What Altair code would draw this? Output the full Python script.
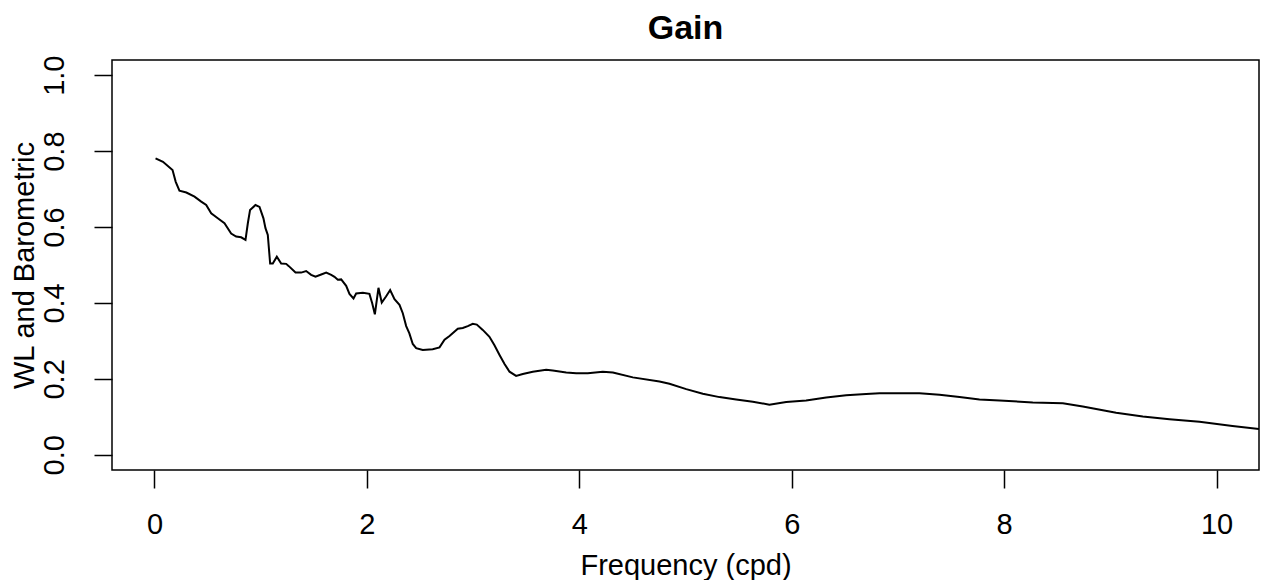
import altair as alt
import pandas as pd

freq = [0.01, 0.08, 0.17, 0.20, 0.235, 0.30, 0.377, 0.44, 0.487, 0.534, 0.596, 0.659,
        0.722, 0.769, 0.816, 0.857, 0.879, 0.90, 0.951, 0.989, 1.026, 1.045, 1.067,
        1.089, 1.114, 1.152, 1.193, 1.24, 1.265, 1.328, 1.381, 1.428, 1.475, 1.516,
        1.57, 1.617, 1.664, 1.695, 1.726, 1.758, 1.805, 1.836, 1.874, 1.899, 1.962,
        2.024, 2.05, 2.075, 2.109, 2.14, 2.18, 2.219, 2.26, 2.307, 2.338, 2.37, 2.40,
        2.432, 2.464, 2.526, 2.62, 2.684, 2.731, 2.778, 2.856, 2.903, 2.95, 2.997,
        3.035, 3.091, 3.154, 3.20, 3.249, 3.296, 3.343, 3.405, 3.468, 3.562, 3.688,
        3.75, 3.877, 3.971, 4.08, 4.221, 4.316, 4.504, 4.755, 4.849, 5.007, 5.163,
        5.32, 5.477, 5.634, 5.79, 5.948, 6.136, 6.325, 6.513, 6.701, 6.827, 7.015,
        7.203, 7.392, 7.58, 7.768, 7.957, 8.27, 8.553, 8.741, 9.055, 9.306, 9.557,
        9.84, 10.15, 10.40]
gain = [0.781, 0.772, 0.750, 0.719, 0.696, 0.691, 0.680, 0.667, 0.658, 0.636, 0.623,
        0.610, 0.583, 0.575, 0.573, 0.566, 0.610, 0.645, 0.658, 0.653, 0.623, 0.597,
        0.579, 0.504, 0.504, 0.522, 0.504, 0.503, 0.497, 0.480, 0.480, 0.484, 0.474,
        0.469, 0.475, 0.480, 0.474, 0.469, 0.461, 0.462, 0.445, 0.424, 0.412, 0.425,
        0.427, 0.424, 0.399, 0.370, 0.440, 0.401, 0.417, 0.434, 0.410, 0.395, 0.373,
        0.339, 0.320, 0.292, 0.281, 0.276, 0.278, 0.283, 0.303, 0.313, 0.332, 0.334,
        0.339, 0.345, 0.343, 0.329, 0.311, 0.289, 0.263, 0.239, 0.219, 0.208, 0.213,
        0.219, 0.224, 0.222, 0.217, 0.215, 0.215, 0.219, 0.217, 0.204, 0.193, 0.187,
        0.173, 0.161, 0.152, 0.146, 0.140, 0.132, 0.139, 0.143, 0.151, 0.157, 0.160,
        0.162, 0.162, 0.162, 0.158, 0.152, 0.146, 0.143, 0.138, 0.136, 0.127, 0.111,
        0.101, 0.094, 0.087, 0.076, 0.068]

x_ticks = [0, 2, 4, 6, 8, 10]
y_ticks = [0.0, 0.2, 0.4, 0.6, 0.8, 1.0]

df = pd.DataFrame({"freq": freq, "gain": gain})

FONT = "Liberation Sans"
FS = 29

chart = alt.Chart(df).mark_line(color="black", strokeWidth=2, clip=True).encode(
    x=alt.X("freq:Q",
            scale=alt.Scale(domain=[-0.4, 10.4], nice=False, zero=False),
            axis=alt.Axis(values=x_ticks, title="Frequency (cpd)", format="d",
                          domain=False, grid=False, tickSize=18, tickColor="black",
                          tickWidth=1.5, labelFont=FONT, labelFontSize=FS,
                          labelColor="black", labelPadding=22,
                          titleFont=FONT, titleFontSize=FS, titleFontWeight="normal",
                          titleColor="black", titleBaseline="alphabetic",
                          titleY=104)),
    y=alt.Y("gain:Q",
            scale=alt.Scale(domain=[-0.04, 1.04], nice=False, zero=False),
            axis=alt.Axis(values=y_ticks, title="WL and Barometric", format=".1f",
                          domain=False, grid=False, tickSize=18, tickColor="black",
                          tickWidth=1.5, labelFont=FONT, labelFontSize=FS,
                          labelColor="black", labelAngle=-90, labelAlign="center",
                          labelBaseline="bottom", labelPadding=25,
                          titleFont=FONT, titleFontSize=FS, titleFontWeight="normal",
                          titleColor="black", titleAngle=-90, titleAlign="center",
                          titleBaseline="middle", titleX=-88, titleY=205)),
).properties(
    width=1147,
    height=410,
    background="white",
    title=alt.TitleParams(text="Gain", anchor="middle", font=FONT, fontSize=34,
                          fontWeight="bold", color="black", offset=9),
    padding={"left": 112, "top": 60, "right": 4, "bottom": 110},
    autosize=alt.AutoSizeParams(type="none"),
).configure_view(stroke="black", strokeWidth=1.5)

chart.save("out.html", embed_options={"renderer": "svg", "actions": False})
